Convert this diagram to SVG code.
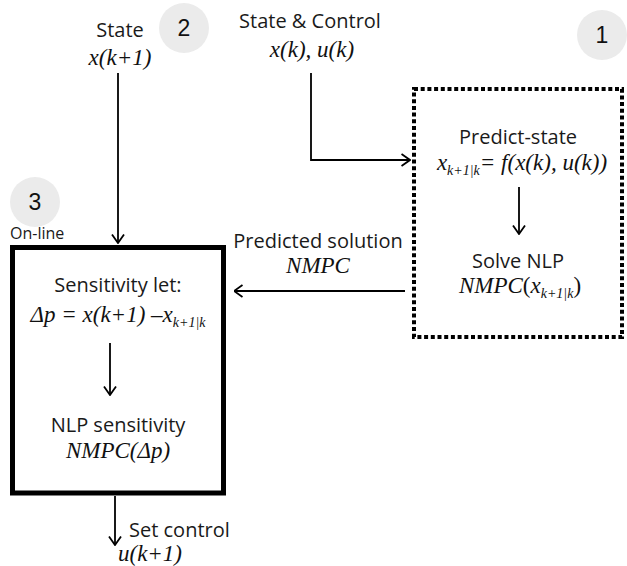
<svg xmlns="http://www.w3.org/2000/svg" width="627" height="566" viewBox="0 0 627 566">
  <defs>
    <marker id="vhead" viewBox="0 0 10 14" refX="9.5" refY="7" markerWidth="10" markerHeight="14" markerUnits="userSpaceOnUse" orient="auto">
      <path d="M1,1 L9.5,7 L1,13" fill="none" stroke="#000" stroke-width="1.8"/>
    </marker>
    <style>
      .sans { font-family: "Open Sans", "Noto Sans", sans-serif; font-size: 20px; fill: #1a1a1a; }
      .math { font-family: "Liberation Serif", "Times New Roman", serif; font-style: italic; font-size: 23px; fill: #111; }
      .sub { font-family: "Liberation Serif", "Times New Roman", serif; font-style: italic; font-size: 14px; }
      .num { font-family: "Liberation Sans", Arial, sans-serif; font-size: 23px; fill: #111; }
      .badge { fill: #ebebeb; }
      .wire { fill: none; stroke: #000; stroke-width: 1.8; marker-end: url(#vhead); }
    </style>
  </defs>
  <rect width="627" height="566" fill="#fff"/>

  <!-- step badges -->
  <g id="badge-1"><circle class="badge" cx="602" cy="35" r="25"/><text class="num" x="602" y="43" text-anchor="middle">1</text></g>
  <g id="badge-2"><circle class="badge" cx="184" cy="28" r="25"/><text class="num" x="184" y="36" text-anchor="middle">2</text></g>
  <g id="badge-3"><circle class="badge" cx="35" cy="202" r="25"/><text class="num" x="35" y="210" text-anchor="middle">3</text></g>

  <!-- inputs -->
  <g id="state-input">
    <text class="sans" x="120" y="37" text-anchor="middle">State</text>
    <text class="math" x="120" y="65" text-anchor="middle">x(k+1)</text>
  </g>
  <g id="state-control-input">
    <text class="sans" x="310" y="28" text-anchor="middle">State &amp; Control</text>
    <text class="math" x="312" y="57" text-anchor="middle">x(k), u(k)</text>
  </g>

  <!-- offline prediction block -->
  <g id="prediction-block">
    <rect x="414" y="89" width="208" height="248" fill="none" stroke="#000" stroke-width="4" stroke-dasharray="4 2.7"/>
    <text class="sans" x="518" y="144" text-anchor="middle">Predict-state</text>
    <text class="math" x="522" y="170" text-anchor="middle">x<tspan class="sub" dy="5">k+1|k</tspan><tspan dy="-5">= f(x(k), u(k))</tspan></text>
    <line class="wire" x1="519" y1="187" x2="519" y2="234"/>
    <text class="sans" x="518" y="268" text-anchor="middle">Solve NLP</text>
    <text class="math" x="520" y="293" text-anchor="middle">NMPC<tspan style="font-style:normal">(</tspan>x<tspan class="sub" dy="5">k+1|k</tspan><tspan dy="-5" style="font-style:normal">)</tspan></text>
  </g>

  <!-- online sensitivity block -->
  <g id="sensitivity-block">
    <text class="sans" x="10" y="239" style="font-size:16px">On-line</text>
    <rect x="12.5" y="247.5" width="211" height="245.5" fill="none" stroke="#000" stroke-width="5"/>
    <text class="sans" x="118" y="292" text-anchor="middle">Sensitivity let:</text>
    <text class="math" x="118" y="322" text-anchor="middle">Δp = x(k+1) –x<tspan class="sub" dy="5">k+1|k</tspan></text>
    <line class="wire" x1="110" y1="343" x2="110" y2="395"/>
    <text class="sans" x="118" y="432" text-anchor="middle">NLP sensitivity</text>
    <text class="math" x="118" y="458" text-anchor="middle">NMPC(Δp)</text>
  </g>

  <!-- output -->
  <g id="control-output">
    <text class="sans" x="129" y="537">Set control</text>
    <text class="math" x="150" y="561" text-anchor="middle">u(k+1)</text>
  </g>

  <!-- connectors -->
  <g id="connectors">
    <line class="wire" x1="118" y1="73" x2="118" y2="243"/>
    <polyline class="wire" points="311,73 311,160 410,160"/>
    <line class="wire" x1="405" y1="291" x2="234" y2="291"/>
    <line class="wire" x1="115" y1="496" x2="115" y2="545"/>
    <text class="sans" x="318" y="248" text-anchor="middle">Predicted solution</text>
    <text class="math" x="318" y="273" text-anchor="middle">NMPC</text>
  </g>
</svg>
